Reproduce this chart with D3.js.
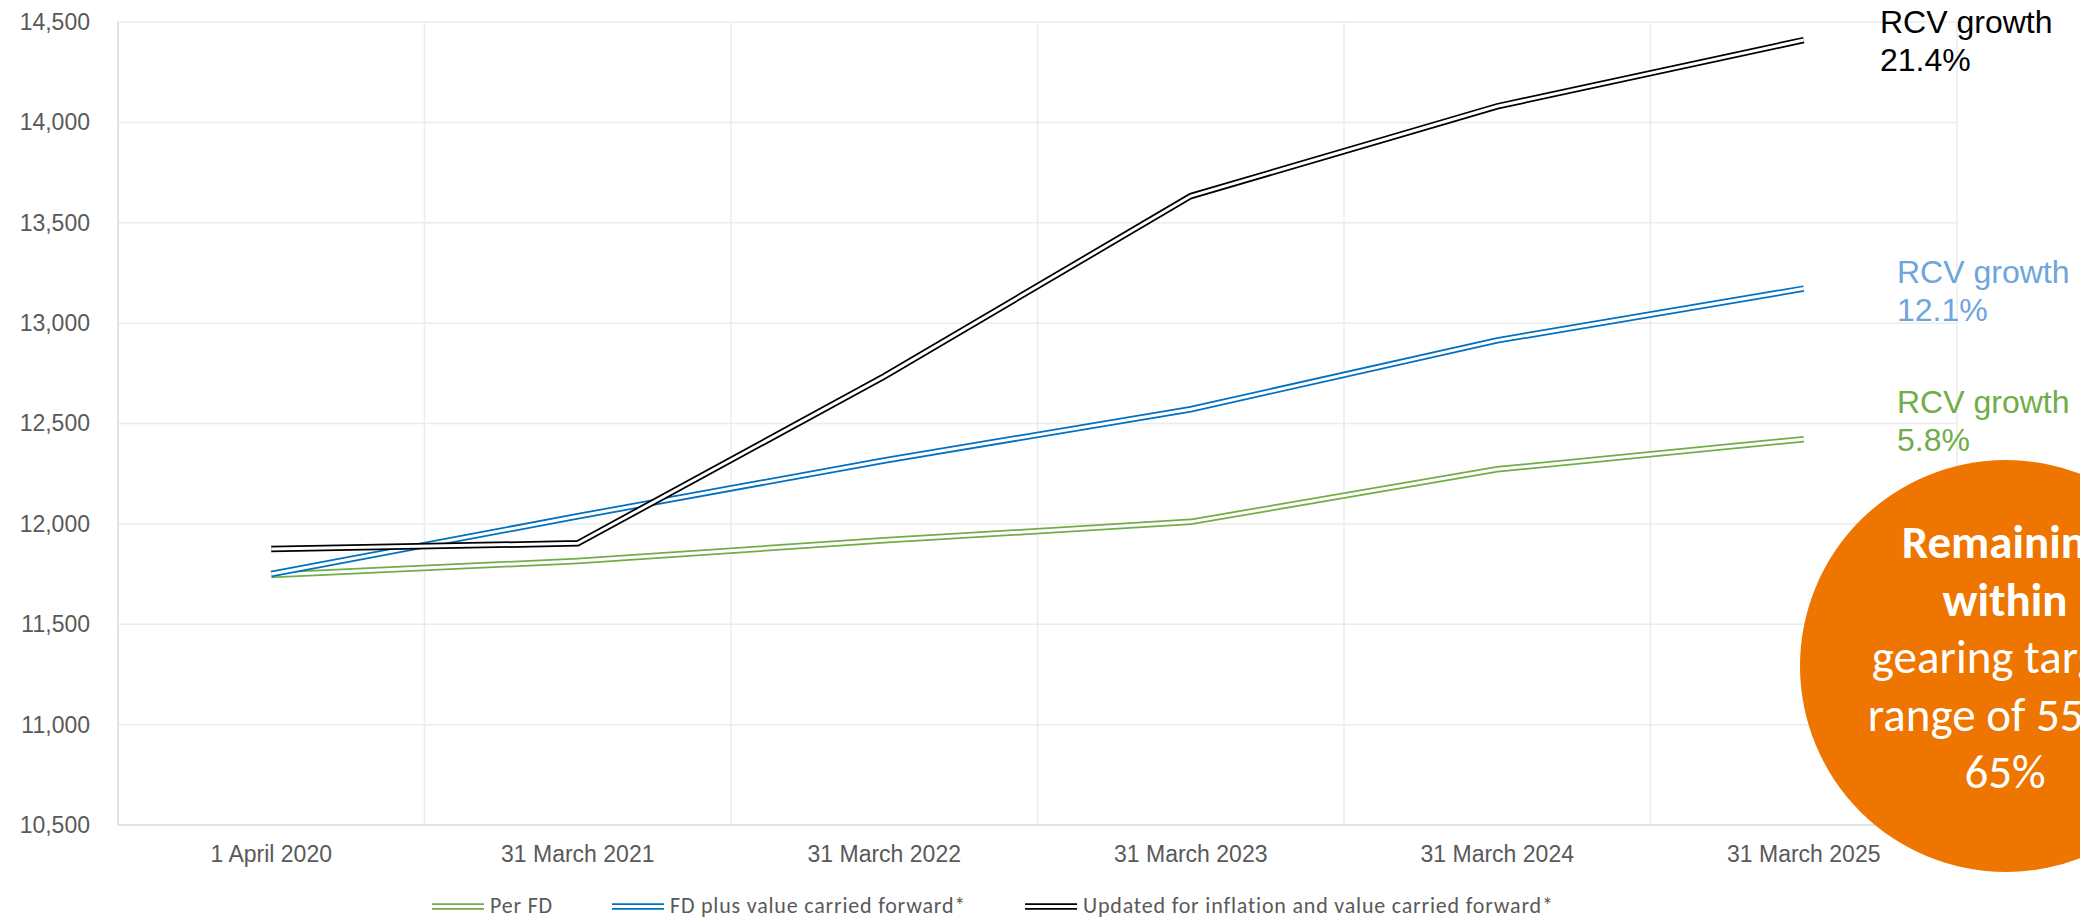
<!DOCTYPE html>
<html>
<head>
<meta charset="utf-8">
<script src="https://cdn.jsdelivr.net/npm/d3@7"></script>
<style>
  html, body { margin: 0; padding: 0; background: #ffffff; }
  svg { display: block; }
</style>
</head>
<body>
<svg id="chart" width="2080" height="918"></svg>
<script>
// Regulatory capital value (RCV), £m, at each year end
const categories = ["1 April 2020", "31 March 2021", "31 March 2022", "31 March 2023", "31 March 2024", "31 March 2025"];
const perFD = [11745, 11815, 11918, 12010, 12272, 12422];
const fdPlusCarried = [11750, 12038, 12316, 12571, 12914, 13172];
const inflationCarried = [11875, 11903, 12735, 13633, 14080, 14410];

const seriesNames = ["Per FD", "FD plus value carried forward*", "Updated for inflation and value carried forward*"];
const growthLabels = ["5.8%", "12.1%", "21.4%"];
const yTicks = [10500, 11000, 11500, 12000, 12500, 13000, 13500, 14000, 14500];
const calloutBold = ["Remaining", "within"];
const calloutPlain = ["gearing target", "range of 55% -", "65%"];

const svg = d3.select("#chart");
const plot = { left: 118, right: 1957, top: 22, bottom: 825 };

const x = d3.scaleBand().domain(categories).range([plot.left, plot.right]).padding(0);
const y = d3.scaleLinear().domain([10500, 14500]).range([plot.bottom, plot.top]);
const cx = d => x(d) + x.bandwidth() / 2;

const gridColor = "#ececec";
const textGray = "#595959";
const axisFont = "'Liberation Sans', Arial, sans-serif";
const bodyFont = "Carlito, Calibri, 'Open Sans', sans-serif";

// horizontal gridlines
svg.append("g")
  .selectAll("line")
  .data(yTicks)
  .join("line")
  .attr("x1", plot.left).attr("x2", plot.right)
  .attr("y1", d => y(d)).attr("y2", d => y(d))
  .attr("stroke", d => d === 10500 ? "#d9d9d9" : gridColor)
  .attr("stroke-width", 1.5);

// vertical gridlines at category boundaries
const bounds = categories.map(c => x(c)).concat([plot.right]);
svg.append("g")
  .selectAll("line")
  .data(bounds)
  .join("line")
  .attr("x1", d => d).attr("x2", d => d)
  .attr("y1", plot.top).attr("y2", plot.bottom)
  .attr("stroke", (d, i) => i === 0 ? "#d9d9d9" : gridColor)
  .attr("stroke-width", 1.5);

// y axis labels
const yAxis = svg.append("g")
  .attr("transform", `translate(${plot.left},0)`)
  .call(d3.axisLeft(y).tickValues(yTicks).tickFormat(d3.format(",")).tickSize(0).tickPadding(28));
yAxis.select(".domain").remove();
yAxis.selectAll("text")
  .attr("font-family", axisFont).attr("font-size", 23).attr("fill", textGray);

// x axis labels
const xAxis = svg.append("g")
  .attr("transform", `translate(0,${plot.bottom})`)
  .call(d3.axisBottom(x).tickSize(0).tickPadding(21));
xAxis.select(".domain").remove();
xAxis.selectAll("text")
  .attr("font-family", axisFont).attr("font-size", 23).attr("fill", textGray);

// double-stroke lines
const series = [
  { name: seriesNames[0], values: perFD, color: "#70AD47" },
  { name: seriesNames[1], values: fdPlusCarried, color: "#0070C0" },
  { name: seriesNames[2], values: inflationCarried, color: "#000000" }
];
const line = d3.line().x((d, i) => cx(categories[i])).y(d => y(d));

series.forEach(s => {
  const g = svg.append("g");
  g.append("path").attr("d", line(s.values))
    .attr("fill", "none").attr("stroke", s.color).attr("stroke-width", 6.5)
    .attr("stroke-linejoin", "miter");
  g.append("path").attr("d", line(s.values))
    .attr("fill", "none").attr("stroke", "#ffffff").attr("stroke-width", 3)
    .attr("stroke-linejoin", "miter");
});

// growth annotations
const notes = [
  { lines: ["RCV growth", growthLabels[2]], color: "#000000", x: 1880, y: 33 },
  { lines: ["RCV growth", growthLabels[1]], color: "#6CA6DB", x: 1897, y: 283 },
  { lines: ["RCV growth", growthLabels[0]], color: "#70AD47", x: 1897, y: 413 }
];
notes.forEach(n => {
  const t = svg.append("text")
    .attr("font-family", axisFont).attr("font-size", 32).attr("fill", n.color);
  n.lines.forEach((l, i) => {
    t.append("tspan").attr("x", n.x).attr("y", n.y + i * 38).text(l);
  });
});

// legend
let lx = 432;
const ly = 906.5;
series.forEach(s => {
  const g = svg.append("g");
  g.append("line").attr("x1", lx).attr("x2", lx + 52).attr("y1", ly).attr("y2", ly)
    .attr("stroke", s.color).attr("stroke-width", 6.5);
  g.append("line").attr("x1", lx).attr("x2", lx + 52).attr("y1", ly).attr("y2", ly)
    .attr("stroke", "#ffffff").attr("stroke-width", 3);
  const t = g.append("text").attr("x", lx + 58).attr("y", 913)
    .attr("font-family", bodyFont).attr("font-size", 22)
    .attr("letter-spacing", 0.8).attr("fill", textGray)
    .text(s.name);
  lx += 58 + t.node().getComputedTextLength() + 59;
});

// gearing callout
const callout = svg.append("g");
callout.append("circle").attr("cx", 2006).attr("cy", 666).attr("r", 206).attr("fill", "#EE7600");
const calloutLines = calloutBold.map(t => ({ t, bold: true })).concat(calloutPlain.map(t => ({ t, bold: false })));
callout.selectAll("text")
  .data(calloutLines)
  .join("text")
  .attr("x", 2005)
  .attr("y", (d, i) => 558 + i * 57.5)
  .attr("text-anchor", "middle")
  .attr("font-family", bodyFont)
  .attr("font-size", 47)
  .attr("font-weight", d => d.bold ? 700 : 400)
  .attr("fill", "#ffffff")
  .text(d => d.t);
</script>
</body>
</html>
